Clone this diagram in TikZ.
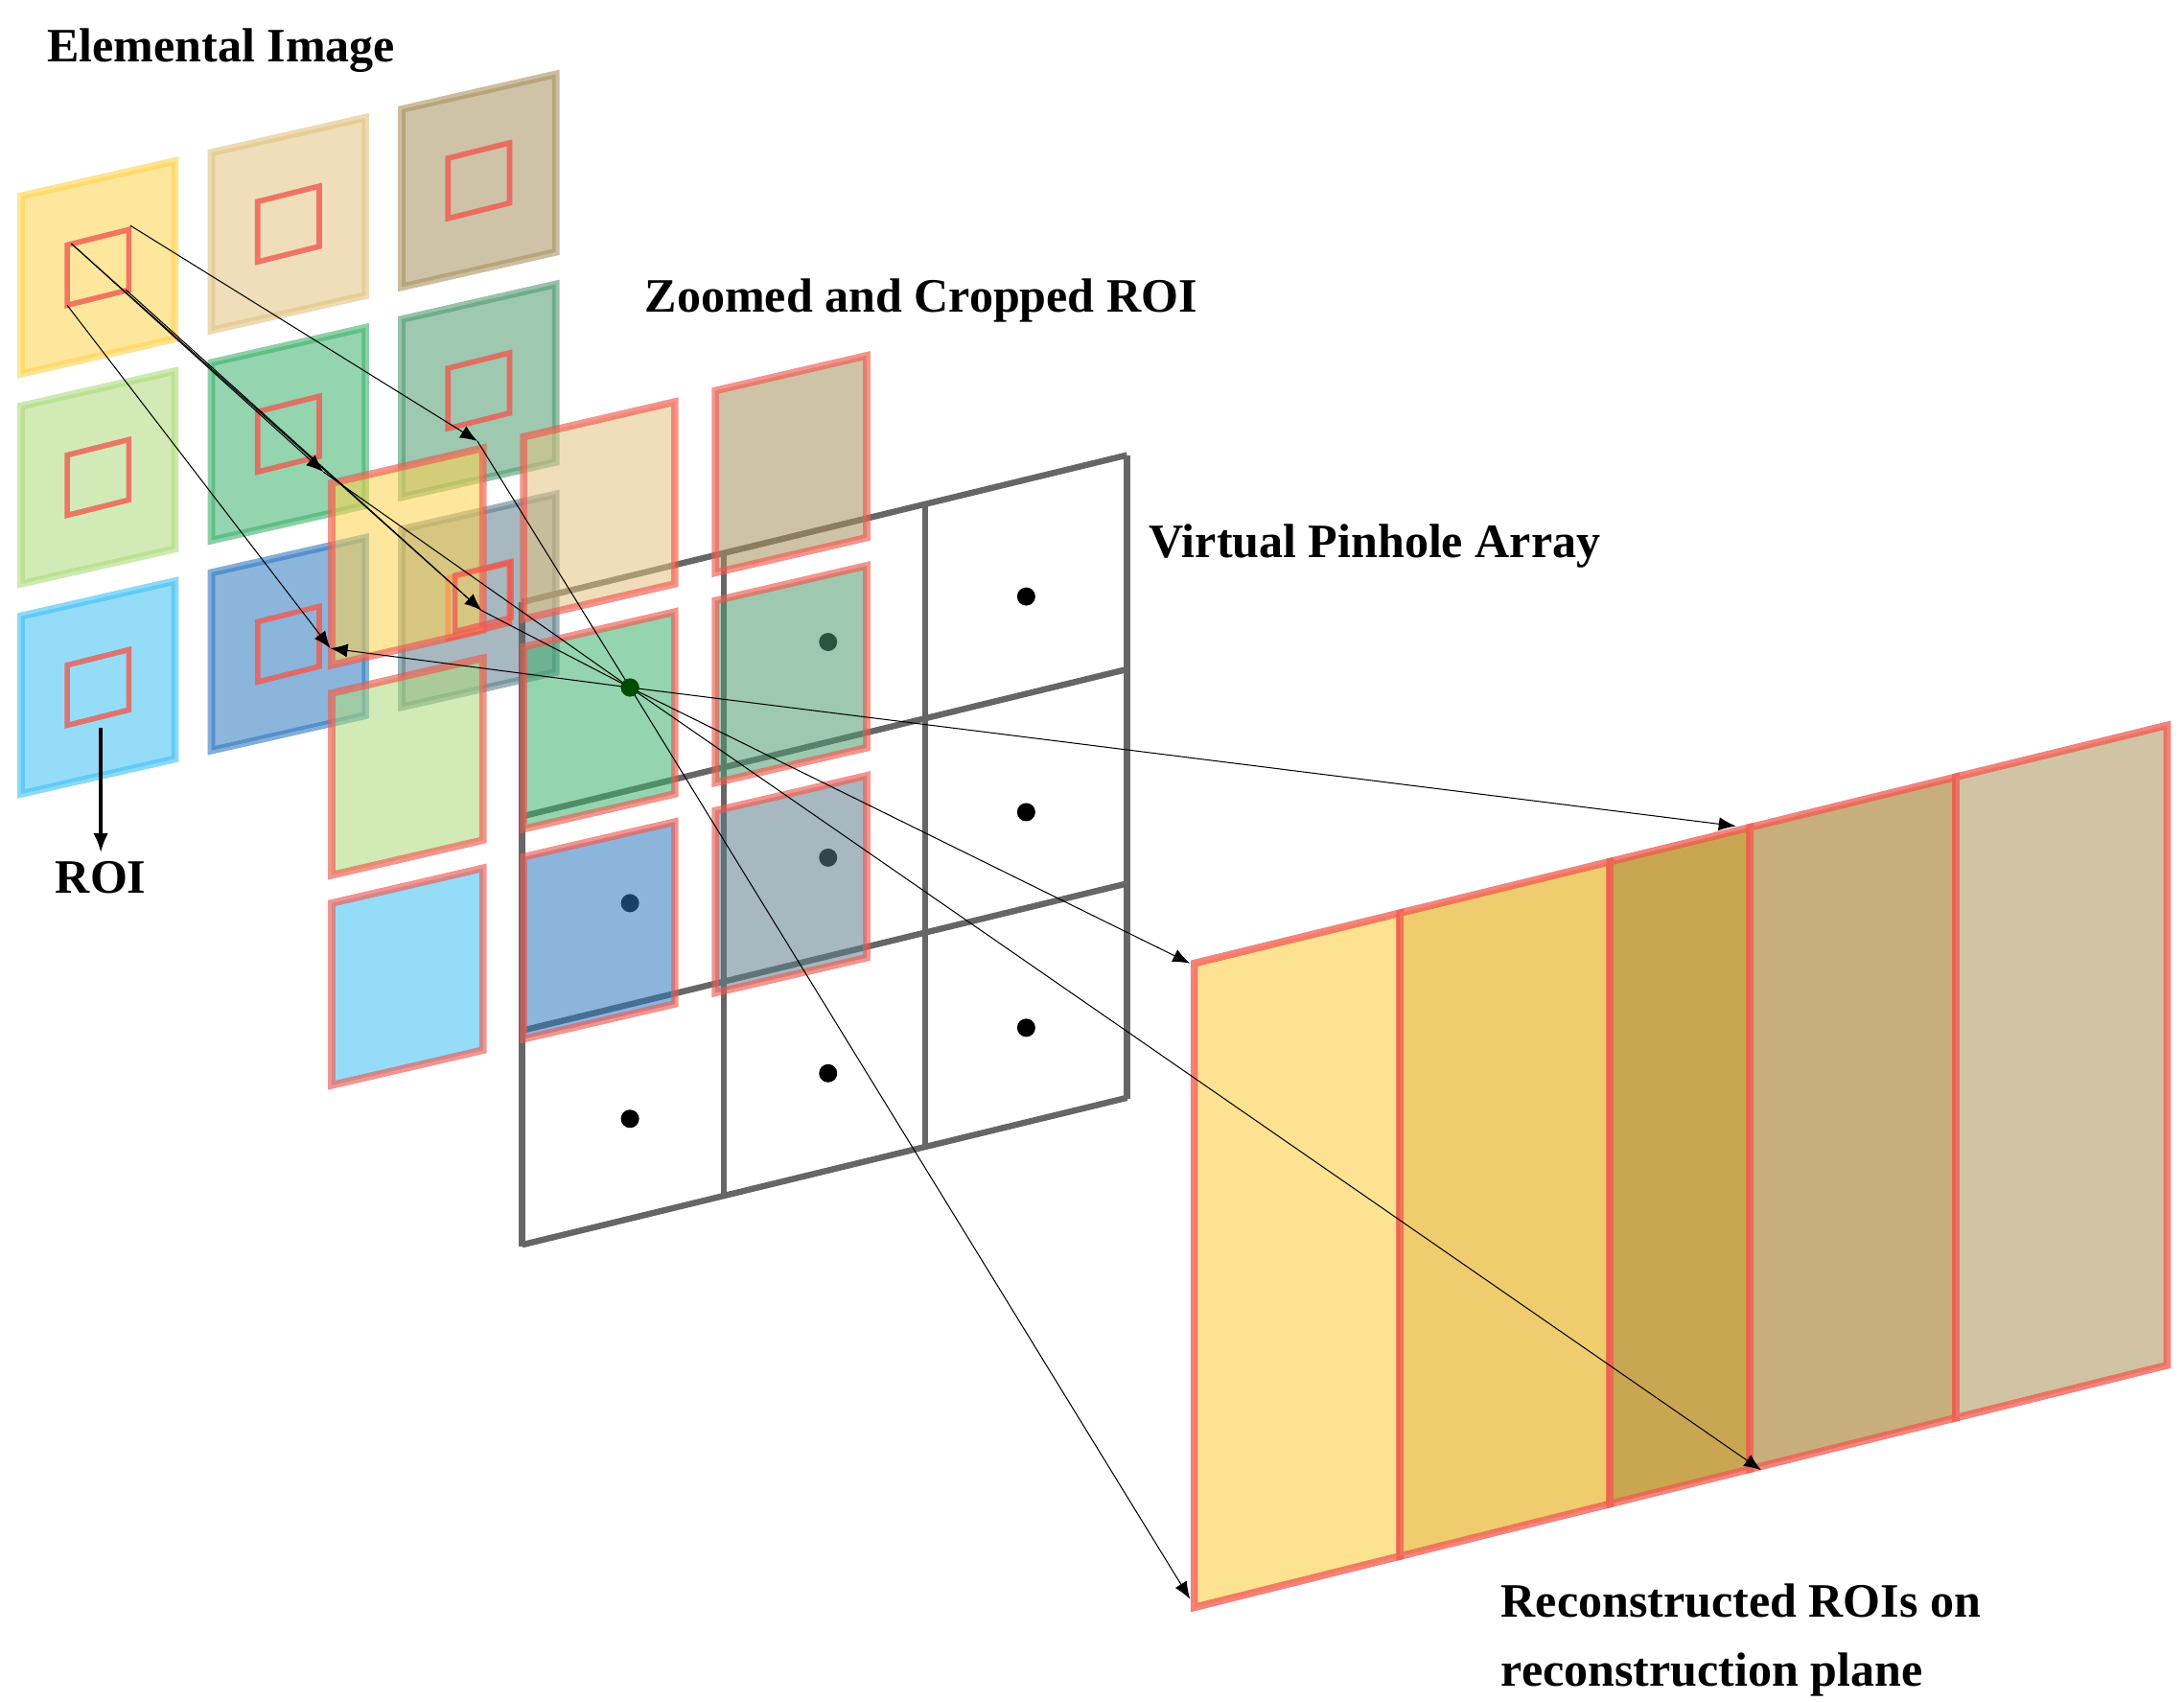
\documentclass[tikz,border=0pt]{standalone}
\usepackage{fontspec}
\setmainfont{Liberation Serif}
\usetikzlibrary{arrows.meta}
\begin{document}
\begin{tikzpicture}[x=0.02cm,y=-0.02cm,
  lbl/.style={font=\fontsize{19.5}{23}\selectfont\bfseries,align=left},
  ar/.style={-{Latex[length=7pt,width=5.5pt]},thin,black},
  ln/.style={thin,black}]
\useasboundingbox (0,0) rectangle (1560,1215);
\definecolor{cY}{HTML}{FFD24D}\definecolor{cT}{HTML}{E2C27F}\definecolor{cB}{HTML}{A8915E}
\definecolor{cLG}{HTML}{ADDB7A}\definecolor{cG}{HTML}{3DB06C}\definecolor{cDG}{HTML}{4E9A70}
\definecolor{cLB}{HTML}{3EBFF3}\definecolor{cBl}{HTML}{2E78BF}\definecolor{cGB}{HTML}{5E7E8C}
\definecolor{rr}{HTML}{F05A50}
% elemental images
\foreach \c/\r/\col in {0/0/cY,1/0/cT,2/0/cB,0/1/cLG,1/1/cG,2/1/cDG,0/2/cLB,1/2/cBl,2/2/cGB}{
  \pgfmathsetmacro{\xx}{15+136*\c}\pgfmathsetmacro{\yy}{140+150*\r-31*\c}
  \draw[line width=3pt,draw=\col,draw opacity=0.6,fill=\col,fill opacity=0.55]
    (\xx,\yy) -- ++(110,-25) -- ++(0,127) -- ++(-110,25) -- cycle;
  \draw[line width=2.2pt,draw=rr,draw opacity=0.8] (\xx+33,\yy+35) -- ++(44,-11) -- ++(0,43) -- ++(-44,11) -- cycle;
}
% pinhole array
\foreach \i in {0,1,2,3}{
  \draw[line width=2.5pt,black!60] (373+144*\i,430-35*\i) -- ++(0,460);
  \draw[line width=2.5pt,black!60] (373,430+153*\i) -- ++(432,-105);
}
\foreach \c in {0,1,2}{\foreach \r in {0,1,2}{
  \fill (450+141.5*\c,491-32.5*\c+154*\r) circle (6.5);}}
% zoomed ROI
\foreach \c/\r/\col in {0/0/cY,1/0/cT,2/0/cB,0/1/cLG,1/1/cG,2/1/cDG,0/2/cLB,1/2/cBl,2/2/cGB}{
  \pgfmathsetmacro{\xx}{237+137*\c}\pgfmathsetmacro{\yy}{345+150*\r-33*\c}
  \draw[line width=3pt,draw=rr,draw opacity=0.65,fill=\col,fill opacity=0.55]
    (\xx,\yy) -- ++(108,-25) -- ++(0,130) -- ++(-108,25) -- cycle;
}
\draw[line width=2.2pt,draw=rr,draw opacity=0.75] (325,411) -- ++(40,-10) -- ++(0,40) -- ++(-40,10) -- cycle;
% reconstruction plane
\foreach \a/\b/\col in {853/1000/FDE291,1000/1150/EFCD6E,1150/1250/C9A652,1250/1397/C8AE7A,1397/1548/D0C4A4}{
  \definecolor{tmp}{HTML}{\col}
  \fill[tmp] (\a,{688-(\a-853)*0.2446}) -- (\b,{688-(\b-853)*0.2446}) -- (\b,{1148-(\b-853)*0.2489}) -- (\a,{1148-(\a-853)*0.2489}) -- cycle;
  \draw[line width=3pt,draw=rr,draw opacity=0.75] (\a,{688-(\a-853)*0.2446}) -- (\b,{688-(\b-853)*0.2446}) -- (\b,{1148-(\b-853)*0.2489}) -- (\a,{1148-(\a-853)*0.2489}) -- cycle;
}
% rays
\coordinate (p) at (450,491);
\coordinate (i1) at (93,161);\coordinate (i2) at (51,174);\coordinate (i3) at (90,207);\coordinate (i4) at (48,218);
\coordinate (z1) at (341,315);\coordinate (z2) at (231,337);\coordinate (z3) at (344,436);\coordinate (z4) at (236,463);
\coordinate (r1) at (850,1142);\coordinate (r2) at (1258,1050);\coordinate (r3) at (850,688);\coordinate (r4) at (1240,590);
\draw[ar] (i1) -- (z1);\draw[ar] (i2) -- (z2);\draw[ar] (i3) -- (z3);\draw[ar] (i4) -- (z4);
\draw[ln] (i2) -- (z3);
\draw[ln] (z1) -- (p);\draw[ln] (z2) -- (p);\draw[ln] (z3) -- (p);\draw[ar] (p) -- (z4);
\draw[ar] (p) -- (r1);\draw[ar] (p) -- (r2);\draw[ar] (p) -- (r3);\draw[ar] (p) -- (r4);
\fill[black!70!green] (p) circle (6.5);
% labels
\node[lbl] (t1) at (158,36) {Elemental Image};
\node[lbl] (t2) at (658,215) {Zoomed and Cropped ROI};
\node[lbl] (t3) at (982,390) {Virtual Pinhole Array};
\node[lbl] (t4) at (72,627) {ROI};
\coordinate (roi) at (72,520);
\draw[-{Latex[length=8pt,width=6pt]},line width=1.8pt] (roi) -- (t4.north);
\node[lbl,anchor=north west,font=\fontsize{19.5}{28}\selectfont\bfseries] (t5) at (1066,1125) {Reconstructed ROIs on\\reconstruction plane};
\end{tikzpicture}
\end{document}
